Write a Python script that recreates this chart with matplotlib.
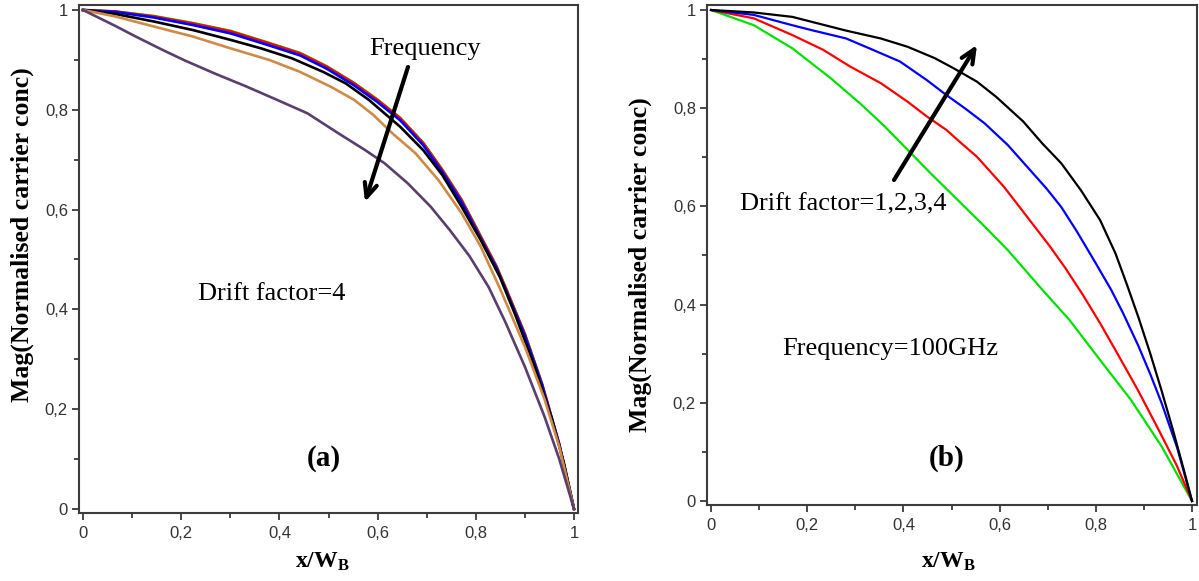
import matplotlib
matplotlib.use('Agg')
from matplotlib import pyplot as plt  # noqa
from matplotlib.ticker import FuncFormatter, MultipleLocator

W, H = 1199, 581

# panel (a): drift factor = 4, several frequencies
a_red_x = [0, 0.066, 0.144, 0.223, 0.301, 0.379, 0.442, 0.497, 0.552, 0.599, 0.646, 0.693,
           0.732, 0.771, 0.81, 0.842, 0.862, 0.90, 0.935, 0.97, 1.0]
a_red_y = [1, 0.997, 0.987, 0.973, 0.957, 0.933, 0.913, 0.886, 0.853, 0.82, 0.783, 0.733,
           0.679, 0.619, 0.546, 0.486, 0.44, 0.35, 0.25, 0.13, 0.0]
a_green_y = [1, 0.997, 0.988, 0.974, 0.958, 0.934, 0.914, 0.887, 0.854, 0.821, 0.784, 0.734,
             0.68, 0.62, 0.547, 0.487, 0.441, 0.351, 0.251, 0.13, 0.0]
a_blue_y = [1, 0.996, 0.985, 0.970, 0.953, 0.929, 0.909, 0.882, 0.849, 0.816, 0.779, 0.729,
            0.675, 0.615, 0.542, 0.483, 0.437, 0.347, 0.248, 0.129, 0.0]
a_black_x = [0, 0.066, 0.144, 0.223, 0.301, 0.363, 0.426, 0.489, 0.535, 0.582, 0.646, 0.693,
             0.732, 0.771, 0.81, 0.849, 0.88, 0.92, 0.955, 0.98, 1.0]
a_black_y = [1, 0.992, 0.977, 0.96, 0.94, 0.923, 0.903, 0.876, 0.853, 0.82, 0.766, 0.719,
             0.669, 0.606, 0.539, 0.465, 0.39, 0.285, 0.18, 0.09, 0.0]
a_orange_x = [0, 0.066, 0.144, 0.223, 0.301, 0.379, 0.442, 0.505, 0.552, 0.591, 0.63, 0.677,
              0.724, 0.771, 0.81, 0.85, 0.90, 0.94, 0.97, 1.0]
a_orange_y = [1, 0.987, 0.967, 0.947, 0.923, 0.90, 0.876, 0.846, 0.82, 0.79, 0.753, 0.713,
              0.659, 0.593, 0.526, 0.44, 0.325, 0.22, 0.125, 0.0]
a_purple_x = [0, 0.066, 0.105, 0.16, 0.207, 0.27, 0.332, 0.395, 0.457, 0.52, 0.575, 0.614,
              0.661, 0.708, 0.747, 0.787, 0.826, 0.86, 0.90, 0.94, 0.97, 1.0]
a_purple_y = [1, 0.968, 0.948, 0.921, 0.899, 0.872, 0.847, 0.82, 0.793, 0.753, 0.719, 0.693,
              0.653, 0.606, 0.559, 0.507, 0.445, 0.375, 0.285, 0.185, 0.10, 0.0]

# panel (b): frequency = 100 GHz, drift factor 1..4
b_black_x = [0, 0.089, 0.169, 0.281, 0.353, 0.409, 0.465, 0.505, 0.553, 0.593, 0.649, 0.689,
             0.728, 0.769, 0.809, 0.841, 0.865, 0.889, 0.913, 0.937, 0.96, 0.985, 1.0]
b_black_y = [1, 0.995, 0.986, 0.958, 0.942, 0.925, 0.902, 0.881, 0.854, 0.823, 0.773, 0.728,
             0.688, 0.633, 0.572, 0.504, 0.44, 0.373, 0.301, 0.224, 0.146, 0.056, 0.0]
b_blue_x = [0, 0.089, 0.169, 0.209, 0.281, 0.329, 0.393, 0.449, 0.489, 0.529, 0.569, 0.617,
            0.657, 0.697, 0.728, 0.76, 0.80, 0.832, 0.856, 0.888, 0.913, 0.937, 0.969, 1.0]
b_blue_y = [1, 0.99, 0.969, 0.959, 0.942, 0.922, 0.895, 0.857, 0.827, 0.799, 0.769, 0.725,
            0.681, 0.637, 0.599, 0.55, 0.484, 0.43, 0.384, 0.317, 0.259, 0.199, 0.109, 0.0]
b_red_x = [0, 0.089, 0.169, 0.233, 0.289, 0.353, 0.409, 0.449, 0.489, 0.513, 0.553, 0.609,
           0.657, 0.705, 0.737, 0.773, 0.809, 0.841, 0.888, 0.928, 0.968, 1.0]
b_red_y = [1, 0.983, 0.949, 0.919, 0.885, 0.851, 0.813, 0.783, 0.756, 0.735, 0.701, 0.64,
           0.579, 0.518, 0.474, 0.42, 0.362, 0.307, 0.225, 0.15, 0.073, 0.0]
b_green_x = [0, 0.089, 0.169, 0.249, 0.313, 0.361, 0.409, 0.457, 0.513, 0.569, 0.617, 0.689,
             0.745, 0.809, 0.873, 0.937, 1.0]
b_green_y = [1, 0.969, 0.922, 0.861, 0.807, 0.763, 0.715, 0.667, 0.613, 0.559, 0.511, 0.43,
             0.369, 0.287, 0.206, 0.111, 0.0]

plt.rcParams['font.family'] = ['Liberation Serif', 'DejaVu Serif']
plt.rcParams['mathtext.fontset'] = 'custom'
plt.rcParams['mathtext.rm'] = 'Liberation Serif'
plt.rcParams['mathtext.bf'] = 'Liberation Serif:bold'
plt.rcParams['mathtext.it'] = 'Liberation Serif:italic'

SPINE = '#3c3c3c'


def fig_frac(x, y):
    return x / W, 1 - y / H


def comma_fmt(v, pos):
    if abs(v - round(v)) < 1e-9:
        return '%d' % round(v)
    return ('%.1f' % v).replace('.', ',')


def style_axes(ax, box, xpix, ypix):
    # box = (left, top, right, bottom) in pixels
    l, t, r, b = box
    ax.set_position([l / W, 1 - b / H, (r - l) / W, (b - t) / H])
    x0, x1 = xpix
    y1, y0 = ypix
    sx = (x1 - x0)
    sy = (y0 - y1)
    ax.set_xlim(-(x0 - l) / sx, 1 + (r - x1) / sx)
    ax.set_ylim(-(b - y0) / sy, 1 + (y1 - t) / sy)
    for s in ax.spines.values():
        s.set_color(SPINE)
        s.set_linewidth(1.5)
    ax.xaxis.set_major_locator(MultipleLocator(0.2))
    ax.yaxis.set_major_locator(MultipleLocator(0.2))
    ax.xaxis.set_minor_locator(MultipleLocator(0.1))
    ax.yaxis.set_minor_locator(MultipleLocator(0.1))
    ax.xaxis.set_major_formatter(FuncFormatter(comma_fmt))
    ax.yaxis.set_major_formatter(FuncFormatter(comma_fmt))
    ax.tick_params(which='major', direction='out', length=5, width=1.3, color=SPINE,
                   labelsize=12, labelcolor='#333333')
    ax.tick_params(which='minor', direction='out', length=3.5, width=1.3, color=SPINE)
    ax.tick_params(axis='x', which='major', pad=4)
    ax.tick_params(axis='y', which='major', pad=3)
    for lab in ax.get_xticklabels() + ax.get_yticklabels():
        lab.set_family(['Liberation Sans', 'DejaVu Sans'])


fig = plt.figure(figsize=(W / 100, H / 100), dpi=100)

ax1 = fig.add_axes([0, 0, 1, 1])
ax1.plot(a_red_x, a_green_y, color='#00d000', lw=1.9)
ax1.plot(a_red_x, a_red_y, color='#ff0000', lw=1.9)
ax1.plot(a_red_x, a_blue_y, color='#0000ff', lw=1.9)
ax1.plot(a_black_x, a_black_y, color='#000000', lw=1.9)
ax1.plot(a_orange_x, a_orange_y, color='#cf8a45', lw=1.9)
ax1.plot(a_purple_x, a_purple_y, color='#5a3f6e', lw=1.9)
style_axes(ax1, (79, 5, 578, 513), (83, 574), (10, 509))

ax2 = fig.add_axes([0, 0, 1, 1])
ax2.plot(b_green_x, b_green_y, color='#00e000', lw=1.6)
ax2.plot(b_red_x, b_red_y, color='#ff0000', lw=1.6)
ax2.plot(b_blue_x, b_blue_y, color='#0000ff', lw=1.6)
ax2.plot(b_black_x, b_black_y, color='#000000', lw=1.6)
style_axes(ax2, (707, 5, 1197, 505), (711, 1192), (10, 501))

# axis labels
ylab = 'Mag(Normalised carrier conc)'
fig.text(*fig_frac(22, 235), ylab, rotation=90, ha='center', va='center',
         fontsize=18.5, fontweight='bold')
fig.text(*fig_frac(640, 265), ylab, rotation=90, ha='center', va='center',
         fontsize=18.5, fontweight='bold')
fig.text(*fig_frac(322, 568), r'$\mathbf{x/W_B}$', ha='center', va='baseline', fontsize=17)
fig.text(*fig_frac(948, 568), r'$\mathbf{x/W_B}$', ha='center', va='baseline', fontsize=17)

# annotations
fig.text(*fig_frac(425, 55), 'Frequency', ha='center', va='baseline', fontsize=19)
fig.text(*fig_frac(272, 300), 'Drift factor=4', ha='center', va='baseline', fontsize=19)
fig.text(*fig_frac(324, 466), '(a)', ha='center', va='baseline', fontsize=21, fontweight='bold')
fig.text(*fig_frac(843, 210), 'Drift factor=1,2,3,4', ha='center', va='baseline', fontsize=19)
fig.text(*fig_frac(890, 355), 'Frequency=100GHz', ha='center', va='baseline', fontsize=19)
fig.text(*fig_frac(947, 466), '(b)', ha='center', va='baseline', fontsize=21, fontweight='bold')

arrow = dict(arrowstyle='->,head_length=1.0,head_width=0.45', lw=3, color='black',
             shrinkA=0, shrinkB=0)
ax1.annotate('', xy=(365, H - 202), xytext=(408, H - 67), xycoords='figure pixels',
             textcoords='figure pixels', arrowprops=arrow)
ax2.annotate('', xy=(977, H - 45), xytext=(894, H - 180), xycoords='figure pixels',
             textcoords='figure pixels', arrowprops=arrow)

fig.savefig('out.png', dpi=100)
